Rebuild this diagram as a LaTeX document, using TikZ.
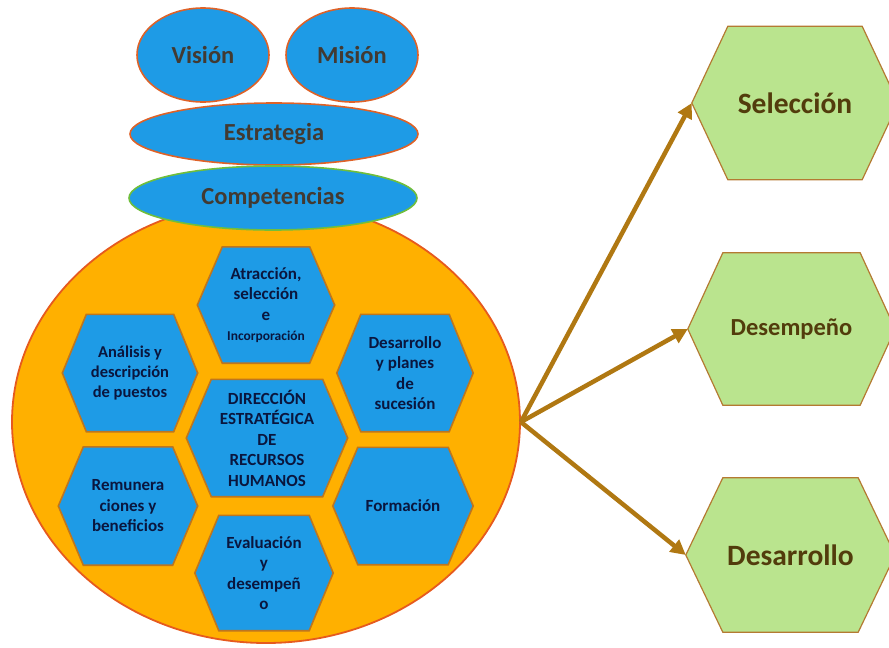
\documentclass[tikz,border=0pt]{standalone}
\usepackage{fontspec}
\setmainfont{Carlito}
\usetikzlibrary{arrows.meta,shapes.geometric}
\pgfdeclarelayer{bottom}
\pgfdeclarelayer{hexes}
\pgfsetlayers{bottom,hexes,main}
\definecolor{hblue}{RGB}{30,155,230}
\definecolor{corefill}{RGB}{255,176,0}
\definecolor{coreline}{RGB}{230,90,30}
\definecolor{ellline}{RGB}{222,98,40}
\definecolor{compline}{RGB}{112,190,60}
\definecolor{hexline}{RGB}{190,118,30}
\definecolor{gfill}{RGB}{186,228,142}
\definecolor{gline}{RGB}{180,122,50}
\definecolor{arrowc}{RGB}{176,120,18}
\definecolor{elltext}{RGB}{66,58,50}
\definecolor{bluetext}{RGB}{10,22,62}
\definecolor{greentext}{RGB}{82,60,12}
% hexagon outline behind a rectangular node: #1 node, #2 inset, #3 style
\newcommand\hexbg[3]{%
  \filldraw[#3] (#1.west) -- ([xshift=#2]#1.north west) -- ([xshift=-#2]#1.north east)
    -- (#1.east) -- ([xshift=-#2]#1.south east) -- ([xshift=#2]#1.south west) -- cycle;}
\tikzset{
  ell/.style={ellipse, fill=hblue, draw=ellline, line width=1.6pt, inner sep=0pt,
    text=elltext, font=\fontsize{24.5}{29}\selectfont\bfseries},
  bhex/.style={rectangle, inner sep=0pt, align=center, text=bluetext,
    font=\fontsize{17}{20.5}\selectfont\bfseries},
  ghex/.style={rectangle, inner sep=0pt, align=center, text=greentext},
  bhexstyle/.style={fill=hblue, draw=hexline, line width=1.6pt, line join=miter},
  ghexstyle/.style={fill=gfill, draw=gline, line width=1.2pt},
  conn/.style={draw=arrowc, line width=4.5pt, -{Triangle[length=15pt,width=15pt]}}
}
\begin{document}
\begin{tikzpicture}[x=1pt,y=-1pt]
\useasboundingbox (0,0) rectangle (889,648);
% core circle
\begin{pgfonlayer}{bottom}
\node[ellipse, fill=corefill, draw=coreline, line width=1.8pt, inner sep=0pt,
  minimum width=508pt, minimum height=442pt] (core) at (266,422) {};
\end{pgfonlayer}
% top ellipses
\node[ell, minimum width=132pt, minimum height=94pt] (vision) at (203,55) {Visión};
\node[ell, minimum width=132pt, minimum height=94pt] (mision) at (352,55) {Misión};
\node[ell, minimum width=288pt, minimum height=62pt] (estr) at (274,134) {Estrategia};
\node[ell, draw=compline, minimum width=288pt, minimum height=64pt] (comp) at (273,198) {Competencias};
% blue hexagons
\node[bhex, minimum width=137pt, minimum height=116pt] (atr) at (266,305)
  {Atracción,\\selección\\e\\{\fontsize{13.5}{16}\selectfont Incorporación}};
\node[bhex, minimum width=135pt, minimum height=117pt, font=\fontsize{16.5}{20}\selectfont\bfseries] (ana) at (130,373)
  {Análisis y\\descripción\\de puestos};
\node[bhex, minimum width=136pt, minimum height=117pt] (desa) at (405,373)
  {Desarrollo\\y planes\\de\\sucesión};
\node[bhex, minimum width=161pt, minimum height=117pt] (dir) at (267,438)
  {DIRECCIÓN\\ESTRATÉGICA\\DE\\RECURSOS\\HUMANOS};
\node[bhex, minimum width=139pt, minimum height=118pt] (rem) at (128,506)
  {Remunera\\ciones y\\beneficios};
\node[bhex, minimum width=140pt, minimum height=117pt] (form) at (403,506)
  {Formación};
\node[bhex, minimum width=138pt, minimum height=115pt] (eva) at (264,573)
  {Evaluación\\y\\desempeñ\\o};
% green hexagons
\node[ghex, minimum width=206pt, minimum height=153pt, font=\fontsize{29.5}{34}\selectfont\bfseries] (sel) at (795,103) {Selección};
\node[ghex, minimum width=207pt, minimum height=152pt, font=\fontsize{24.5}{29}\selectfont\bfseries] (desem) at (791.5,329) {Desempeño};
\node[ghex, minimum width=209pt, minimum height=154pt, font=\fontsize{29.5}{34}\selectfont\bfseries] (desarr) at (790.5,555) {Desarrollo};
\begin{pgfonlayer}{hexes}
\hexbg{atr}{25pt}{bhexstyle}
\hexbg{ana}{24pt}{bhexstyle}
\hexbg{desa}{24pt}{bhexstyle}
\hexbg{dir}{25pt}{bhexstyle}
\hexbg{rem}{25pt}{bhexstyle}
\hexbg{form}{25pt}{bhexstyle}
\hexbg{eva}{24pt}{bhexstyle}
\hexbg{sel}{36pt}{ghexstyle}
\hexbg{desem}{35pt}{ghexstyle}
\hexbg{desarr}{37pt}{ghexstyle}
\end{pgfonlayer}
% connectors
\draw[conn] (core.east) -- (sel.west);
\draw[conn] (core.east) -- (desem.west);
\draw[conn] (core.east) -- (desarr.west);
\end{tikzpicture}
\end{document}
